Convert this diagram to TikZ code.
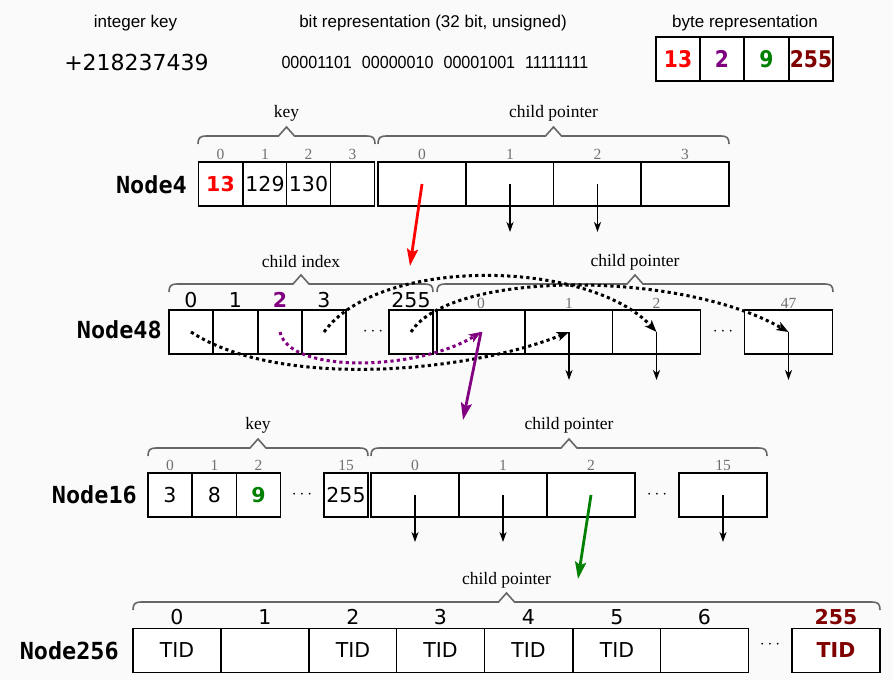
\documentclass[tikz,border=0pt]{standalone}
\usepackage{fontspec}
\usetikzlibrary{arrows.meta}
\newfontfamily\dvs{DejaVu Sans}
\newfontfamily\dvsc{DejaVu Sans}[FakeStretch=0.88]
\newfontfamily\lib{Liberation Sans}
\newfontfamily\libn{Liberation Sans}[FakeStretch=0.92]
\newfontfamily\libs{Liberation Serif}
\newfontfamily\dvm{DejaVu Sans Mono}
\definecolor{bg}{HTML}{FAFAFA}
\definecolor{idxgray}{HTML}{707070}
\definecolor{bracegray}{HTML}{666666}
\definecolor{mypurple}{HTML}{800080}
\definecolor{mygreen}{HTML}{008000}
\definecolor{mydarkred}{HTML}{800000}
\definecolor{myred}{HTML}{FF0000}
\newcommand{\mybrace}[3]{\draw[brc] (#1,#3+8) .. controls (#1,#3+2) and (#1+2,#3) .. (#1+8,#3) -- ({(#1+#2)/2-8},#3) -- ({(#1+#2)/2},#3-9) -- ({(#1+#2)/2+8},#3) -- (#2-8,#3) .. controls (#2-2,#3) and (#2,#3+2) .. (#2,#3+8);}
\tikzset{
 cell/.style={draw=black, fill=white, line width=1.5pt, inner sep=0pt, minimum height=44pt, font=\dvs\fontsize{20.5}{24}\selectfont},
 kcell/.style={cell, minimum width=44pt},
 pcell/.style={cell, minimum width=88pt},
 bytecell/.style={draw=black, fill=white, line width=1.5pt, inner sep=0pt, minimum height=44pt, minimum width=44pt, font=\dvsc\bfseries\fontsize{23}{27}\selectfont},
 idx/.style={text=idxgray, font=\libs\fontsize{15.5}{18}\selectfont, inner sep=0pt},
 bigidx/.style={font=\dvs\fontsize{20.5}{24}\selectfont, inner sep=0pt},
 lbl/.style={font=\libs\fontsize{17.5}{20}\selectfont, inner sep=0pt},
 nname/.style={font=\dvm\bfseries\fontsize{23.5}{28}\selectfont, anchor=east, inner sep=0pt},
 toplbl/.style={font=\lib\fontsize{17}{20}\selectfont, inner sep=0pt},
 brc/.style={draw=bracegray, line width=1.6pt},
 down/.style={-{Stealth[length=10pt,width=7pt,inset=3pt]}, line width=1.6pt},
 hop/.style={-{Stealth[length=17pt,width=11pt,inset=3pt]}, line width=2.8pt},
 dotarr/.style={line width=3pt, dash pattern=on 3.2pt off 3.2pt, -{Stealth[length=12pt,width=9pt,inset=3pt]}},
 ell/.style={font=\fontsize{17}{20}\selectfont, inner sep=0pt}
}
\begin{document}
\begin{tikzpicture}[x=1pt,y=-1pt]
\fill[bg] (0,0) rectangle (893,680);
\useasboundingbox (0,0) rectangle (893,680);

% ---------- top row ----------
\node[toplbl] (tint) at (135.5,23) {integer key};
\node[font=\dvs\fontsize{22}{26}\selectfont, inner sep=0pt] (tkey) at (136.5,62) {+218237439};
\node[toplbl] (tbit) at (433,23) {bit representation (32 bit, unsigned)};
\node[font=\libn\fontsize{17.5}{20}\selectfont, inner sep=0pt] (tbits) at (435,62) {00001101\hspace{10pt}00000010\hspace{10pt}00001001\hspace{10pt}11111111};
\node[toplbl] (tbyte) at (745,23) {byte representation};
\node[bytecell] (b0) at (678,59) {\textcolor{myred}{13}};
\node[bytecell] (b1) at (722,59) {\textcolor{mypurple}{2}};
\node[bytecell] (b2) at (766.5,59) {\textcolor{mygreen}{9}};
\node[bytecell] (b3) at (811,59) {\textcolor{mydarkred}{255}};

% ---------- Node4 ----------
\node[nname] (n4name) at (187,185) {Node4};
\mybrace{198}{375}{136}
\mybrace{378}{729}{136}
\node[lbl] (n4kl) at (286.5,113) {key};
\node[lbl] (n4pl) at (553.5,113) {child pointer};
\node[kcell] (n4k0) at (220.5,184) {\textcolor{myred}{\bfseries 13}};
\node[kcell] (n4k1) at (265,184) {129};
\node[kcell] (n4k2) at (308.5,184) {130};
\node[kcell] (n4k3) at (352.5,184) {};
\node[pcell] (n4p0) at (422,184) {};
\node[pcell] (n4p1) at (510,184) {};
\node[pcell] (n4p2) at (597.5,184) {};
\node[pcell] (n4p3) at (685,184) {};
\node[idx] (n4ki0) at (220.5,154) {0};
\node[idx] (n4ki1) at (265,154) {1};
\node[idx] (n4ki2) at (308.5,154) {2};
\node[idx] (n4ki3) at (352.5,154) {3};
\node[idx] (n4pi0) at (422,154) {0};
\node[idx] (n4pi1) at (510,154) {1};
\node[idx] (n4pi2) at (597.5,154) {2};
\node[idx] (n4pi3) at (685,154) {3};
\coordinate (n4e1) at (510,232);
\coordinate (n4e2) at (597.5,232);
\draw[down] (n4p1.center) -- (n4e1);
\draw[down] (n4p2.center) -- (n4e2);

% ---------- Node48 ----------
\node[nname] (n48name) at (162,330) {Node48};
\mybrace{169}{433}{284}
\mybrace{437}{833}{284}
\node[lbl] (n48kl) at (301,262) {child index};
\node[lbl] (n48pl) at (635,262) {child pointer};
\node[kcell] (n48k0) at (191,332) {};
\node[kcell] (n48k1) at (235.5,332) {};
\node[kcell] (n48k2) at (280,332) {};
\node[kcell] (n48k3) at (324,332) {};
\node[ell] (n48kd) at (373,332) {$\cdots$};
\node[kcell] (n48k255) at (411,332) {};
\node[pcell] (n48p0) at (481,332) {};
\node[pcell] (n48p1) at (569,332) {};
\node[pcell] (n48p2) at (656.5,332) {};
\node[ell] (n48pd) at (723,332) {$\cdots$};
\node[pcell] (n48p47) at (788.5,332) {};
\node[bigidx] (n48ki0) at (191,300) {0};
\node[bigidx] (n48ki1) at (235.5,300) {1};
\node[bigidx, text=mypurple, font=\dvs\bfseries\fontsize{20.5}{24}\selectfont] (n48ki2) at (280,300) {2};
\node[bigidx] (n48ki3) at (324,300) {3};
\node[bigidx] (n48ki255) at (411,300) {255};
\node[idx] (n48pi0) at (481,303) {0};
\node[idx] (n48pi1) at (569,303) {1};
\node[idx] (n48pi2) at (656.5,303) {2};
\node[idx] (n48pi47) at (788.5,303) {47};
\coordinate (n48e1) at (569,380);
\coordinate (n48e2) at (656.5,380);
\coordinate (n48e47) at (788.5,380);
\draw[down] (n48p1.center) -- (n48e1);
\draw[down] (n48p2.center) -- (n48e2);
\draw[down] (n48p47.center) -- (n48e47);

% ---------- Node16 ----------
\node[nname] (n16name) at (137,495) {Node16};
\mybrace{148}{368}{448}
\mybrace{371}{767}{448}
\node[lbl] (n16kl) at (258,425) {key};
\node[lbl] (n16pl) at (569,425) {child pointer};
\node[kcell] (n16k0) at (170,495) {3};
\node[kcell] (n16k1) at (214.5,495) {8};
\node[kcell] (n16k2) at (258.5,495) {\textcolor{mygreen}{\bfseries 9}};
\node[ell] (n16kd) at (302,495) {$\cdots$};
\node[kcell] (n16k15) at (346,495) {255};
\node[pcell] (n16p0) at (415,495) {};
\node[pcell] (n16p1) at (503,495) {};
\node[pcell] (n16p2) at (591,495) {};
\node[ell] (n16pd) at (657,495) {$\cdots$};
\node[pcell] (n16p15) at (723,495) {};
\node[idx] (n16ki0) at (170,465) {0};
\node[idx] (n16ki1) at (214.5,465) {1};
\node[idx] (n16ki2) at (258.5,465) {2};
\node[idx] (n16ki15) at (346,465) {15};
\node[idx] (n16pi0) at (415,465) {0};
\node[idx] (n16pi1) at (503,465) {1};
\node[idx] (n16pi2) at (591,465) {2};
\node[idx] (n16pi15) at (723,465) {15};
\coordinate (n16e0) at (415,542);
\coordinate (n16e1) at (503,542);
\coordinate (n16e15) at (723,542);
\draw[down] (n16p0.center) -- (n16e0);
\draw[down] (n16p1.center) -- (n16e1);
\draw[down] (n16p15.center) -- (n16e15);

% ---------- Node256 ----------
\node[nname] (n256name) at (119,651) {Node256};
\mybrace{133}{880}{602}
\node[lbl] (n256pl) at (506.5,580) {child pointer};
\node[pcell] (c0) at (177,650.5) {TID};
\node[pcell] (c1) at (265,650.5) {};
\node[pcell] (c2) at (353,650.5) {TID};
\node[pcell] (c3) at (440.5,650.5) {TID};
\node[pcell] (c4) at (528.5,650.5) {TID};
\node[pcell] (c5) at (617,650.5) {TID};
\node[pcell] (c6) at (704.5,650.5) {};
\node[ell] (c256d) at (770,645) {$\cdots$};
\node[pcell] (c255) at (836,650.5) {\textcolor{mydarkred}{\bfseries TID}};
\node[bigidx] (ci0) at (177,617) {0};
\node[bigidx] (ci1) at (265,617) {1};
\node[bigidx] (ci2) at (353,617) {2};
\node[bigidx] (ci3) at (440.5,617) {3};
\node[bigidx] (ci4) at (528.5,617) {4};
\node[bigidx] (ci5) at (617,617) {5};
\node[bigidx] (ci6) at (704.5,617) {6};
\node[bigidx, text=mydarkred, font=\dvs\bfseries\fontsize{20.5}{24}\selectfont] (ci255) at (836,617) {255};

% ---------- dotted index arrows ----------
\draw[dotarr] (n48k0.center) .. controls (280,390) and (470,372) .. (n48p1.center);
\draw[dotarr] (n48k3.center) .. controls (380,255) and (590,260) .. (n48p2.center);
\draw[dotarr] (n48k255.center) .. controls (450,270) and (680,270) .. (n48p47.center);
\draw[dotarr, draw=mypurple] (n48k2.center) .. controls (290,375) and (420,370) .. (n48p0.center);

% ---------- search path ----------
\coordinate (redtip) at (410,266);
\coordinate (purtip) at (463,420);
\coordinate (grntip) at (578,579);
\draw[hop, draw=myred] (n4p0.center) -- (redtip);
\draw[hop, draw=mypurple] (n48p0.center) -- (purtip);
\draw[hop, draw=mygreen] (n16p2.center) -- (grntip);
\end{tikzpicture}
\end{document}
